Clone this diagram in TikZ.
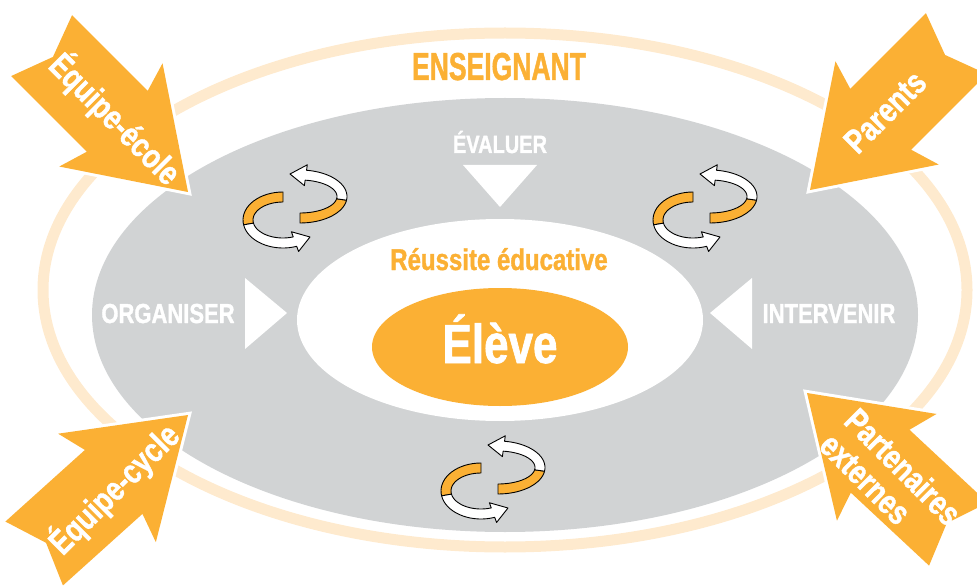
\documentclass[tikz,border=0pt]{standalone}
\usepackage{fontspec}
\newfontfamily\condfont{Liberation Sans}[FakeStretch=0.8, FakeBold=1.2]
\newfontfamily\narrowfont{Liberation Sans}[FakeStretch=0.68, FakeBold=1.2]
\definecolor{ensorange}{RGB}{251,176,52}
\definecolor{ensgray}{RGB}{209,211,212}
\definecolor{ensbeige}{RGB}{254,234,206}
\tikzset{
  graytext/.style={white, font=\condfont\bfseries\fontsize{27.5}{27.5}\selectfont, anchor=base, inner sep=0},
  arrowtext/.style={white, font=\condfont\bfseries\fontsize{34}{35}\selectfont, inner sep=0},
  % big block arrow, tip at the origin, pointing along +x
  bigarrow/.pic={
    \fill[ensorange, preaction={draw=white, line width=6}]
      (0,0) -- (-109,73) -- (-100,43) -- (-207,43) -- (-191,0)
      -- (-207,-43) -- (-100,-43) -- (-109,-73) -- cycle;
  },
  % pair of twisted ribbon arrows
  turnicon/.pic={
    \begin{scope}[draw=black, line width=0.9, line join=round]
    \filldraw[fill=ensorange]
      plot[domain=90:8, samples=18] ({5+47*cos(\x)},{-9.5+26.5*sin(\x)})
      -- plot[domain=8:90, samples=18] ({5+37*cos(\x)},{-9.5+16.5*sin(\x)}) -- cycle;
    \filldraw[fill=white]
      plot[domain=8:-82, samples=18] ({5+47*cos(\x)},{-9.5+26.5*sin(\x)})
      -- ({5+52.5*cos(-82)},{-9.5+32*sin(-82)}) -- (-5,-32)
      -- ({5+31.5*cos(-82)},{-9.5+11*sin(-82)})
      -- plot[domain=-82:8, samples=18] ({5+37*cos(\x)},{-9.5+16.5*sin(\x)}) -- cycle;
    \filldraw[fill=ensorange]
      plot[domain=-90:-190, samples=18] ({-12+40*cos(\x)},{14+28*sin(\x)})
      -- plot[domain=-190:-90, samples=18] ({-12+30*cos(\x)},{14+18*sin(\x)}) -- cycle;
    \filldraw[fill=white]
      plot[domain=-190:-290, samples=18] ({-12+40*cos(\x)},{14+28*sin(\x)})
      -- ({-12+45.5*cos(-290)},{14+33.5*sin(-290)}) -- (15,31)
      -- ({-12+24.5*cos(-290)},{14+12.5*sin(-290)})
      -- plot[domain=-290:-190, samples=18] ({-12+30*cos(\x)},{14+18*sin(\x)}) -- cycle;
    \end{scope}
  }
}
\begin{document}
\begin{tikzpicture}[x=1pt, y=-1pt]
\clip (0,0) rectangle (977,588);
% rings
\draw[ensbeige, line width=11] (505,290) ellipse [x radius=462, y radius=257];
\fill[ensgray] (505,315) ellipse [x radius=413, y radius=217];
\fill[white] (500,320) ellipse [x radius=203, y radius=101];
\fill[ensorange] (500,347) ellipse [x radius=128, y radius=59];
% pointers to the centre
\fill[white] (463,165) -- (537,165) -- (500,207) -- cycle;
\fill[white] (245,278) -- (245,349) -- (287,313) -- cycle;
\fill[white] (752,278) -- (752,349) -- (710,313) -- cycle;
% cycles
\pic at (295,206) {turnicon};
\pic at (705,206) {turnicon};
\pic at (493,477) {turnicon};
% partners
\pic[rotate=-45] at (188,192) {bigarrow};
\pic[rotate=-135] at (810,190) {bigarrow};
\pic[rotate=42] at (188,415) {bigarrow};
\pic[rotate=137] at (807,393) {bigarrow};
% texts
\node[ensorange, font=\narrowfont\bfseries\fontsize{39}{39}\selectfont, anchor=base, inner sep=0] (enseignant) at (499,80) {ENSEIGNANT};
\node[graytext, font=\condfont\bfseries\fontsize{25}{25}\selectfont] (evaluer) at (500,153) {ÉVALUER};
\node[graytext] (organiser) at (168,323) {ORGANISER};
\node[graytext] (intervenir) at (829,323) {INTERVENIR};
\node[ensorange, font=\condfont\bfseries\fontsize{30}{30}\selectfont, anchor=base, inner sep=0] (reussite) at (499,270) {Réussite éducative};
\node[white, font=\condfont\bfseries\fontsize{55}{55}\selectfont, anchor=base, inner sep=0] (eleve) at (500,363) {Élève};
\node[arrowtext, rotate=-45] (ecole) at (115,119) {Équipe-école};
\node[arrowtext, rotate=45] (parents) at (885,112) {Parents};
\node[arrowtext, rotate=45] (cycle) at (114,489) {Équipe-cycle};
\node[arrowtext, rotate=-45, align=left] (partenaires) at (891,479) {Partenaires\\externes};
\end{tikzpicture}
\end{document}
